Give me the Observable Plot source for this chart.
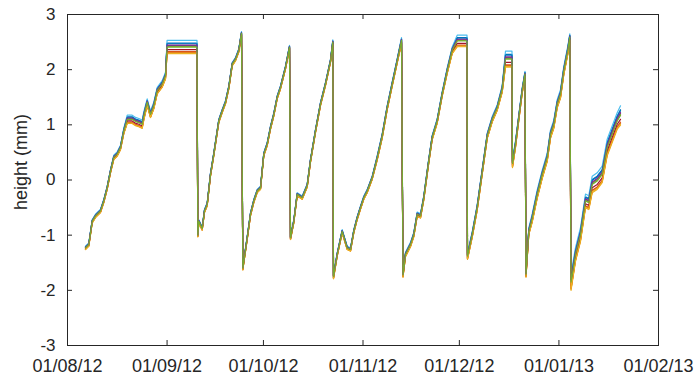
<!DOCTYPE html>
<html>
<head>
<meta charset="utf-8">
<script src="https://cdn.jsdelivr.net/npm/d3@7"></script>
<script src="https://cdn.jsdelivr.net/npm/@observablehq/plot@0.6"></script>
<style>
  html, body { margin: 0; padding: 0; background: #fff; }
  #chart { width: 698px; height: 377px; }
</style>
</head>
<body>
<div id="chart"></div>
<script>
// Time in days since 01/08/12
const days = [
  5.60, 6.63, 7.69, 8.72, 10.27, 11.30, 12.36, 13.39, 14.41, 15.47, 16.50, 17.53, 18.59, 20.14, 21.17, 22.20, 23.26, 23.75, 24.81, 25.84, 26.87, 27.93, 29.48, 30.51, 31.0, 40.32,
  40.57, 40.88, 41.94, 42.65, 43.49, 44.52, 45.55, 47.10, 48.16, 49.19, 50.22, 51.28, 52.30, 53.33, 54.17,
  54.58, 55.95, 56.97, 58.00, 59.06, 60.09, 61.12, 62.17, 63.20, 64.23, 65.29, 66.31, 67.87, 69.12,
  69.43, 70.45, 71.51, 73.07, 74.63, 75.65, 77.21, 78.77, 80.32, 81.88, 82.60,
  82.81, 83.97, 85.52, 87.08, 88.11, 89.13, 90.19, 91.22, 92.25, 93.31, 94.86, 96.42, 97.98, 99.53, 101.09, 102.65, 103.99,
  104.45, 105.23, 106.79, 107.81, 108.87, 109.90, 110.93, 112.48, 113.54, 115.10, 116.66, 118.21, 119.77, 121.33, 124.38,
  124.53, 126.00, 127.55, 129.11, 130.67, 132.22, 133.78, 135.34, 136.36, 138.39, 138.54, 139.48, 140.50, 141.56, 142.43,
  142.74, 143.62, 144.68, 146.23, 147.79, 149.35, 150.37, 151.40, 152.46, 153.49, 154.51, 155.76, 156.38,
  156.76, 158.16, 159.71, 161.27, 162.30, 163.36, 164.91, 166.47, 168.03, 169.58, 171.14, 172.17
];
// Central height (mm)
const heights = [
  -1.23, -1.17, -0.75, -0.65, -0.56, -0.38, -0.14, 0.16, 0.41, 0.47, 0.59, 0.89, 1.10, 1.10, 1.06, 1.04, 1.01, 1.16, 1.41, 1.19, 1.35, 1.62, 1.74, 1.89, 2.41, 2.41,
  -1.00, -0.75, -0.88, -0.56, -0.44, 0.10, 0.47, 1.07, 1.25, 1.41, 1.68, 2.10, 2.19, 2.35, 2.66,
  -1.60, -1.05, -0.62, -0.38, -0.20, -0.14, 0.47, 0.65, 0.95, 1.19, 1.50, 1.68, 2.04, 2.41,
  -1.05, -0.75, -0.26, -0.32, -0.10, 0.35, 0.89, 1.38, 1.74, 2.16, 2.50,
  -1.75, -1.35, -0.93, -1.23, -1.26, -0.93, -0.69, -0.50, -0.32, -0.20, 0.04, 0.40, 0.80, 1.31, 1.74, 2.16, 2.53,
  -1.72, -1.35, -1.17, -0.99, -0.62, -0.65, -0.32, 0.35, 0.77, 1.07, 1.56, 1.98, 2.35, 2.52, 2.52,
  -1.38, -0.99, -0.50, 0.15, 0.80, 1.10, 1.31, 1.65, 2.19, 2.19, 0.30, 0.65, 1.13, 1.62, 1.92,
  -1.71, -0.93, -0.69, -0.26, 0.10, 0.41, 0.83, 1.01, 1.38, 1.56, 1.98, 2.35, 2.59,
  -1.85, -1.35, -0.99, -0.38, -0.41, -0.08, -0.02, 0.10, 0.59, 0.83, 1.07, 1.17
];
// Spread between the sensors at each time (mm)
const spreads = [
  0.06, 0.06, 0.06, 0.06, 0.06, 0.06, 0.06, 0.06, 0.08, 0.08, 0.08, 0.10, 0.15, 0.15, 0.15, 0.15, 0.15, 0.15, 0.12, 0.12, 0.12, 0.12, 0.12, 0.12, 0.24, 0.24,
  0.06, 0.06, 0.06, 0.06, 0.06, 0.06, 0.06, 0.06, 0.06, 0.06, 0.06, 0.06, 0.06, 0.06, 0.06,
  0.06, 0.06, 0.06, 0.06, 0.06, 0.06, 0.06, 0.06, 0.06, 0.06, 0.06, 0.06, 0.06, 0.06,
  0.06, 0.06, 0.06, 0.06, 0.06, 0.06, 0.06, 0.06, 0.06, 0.06, 0.08,
  0.08, 0.06, 0.06, 0.06, 0.06, 0.06, 0.06, 0.06, 0.06, 0.06, 0.06, 0.08, 0.08, 0.08, 0.08, 0.08, 0.10,
  0.08, 0.08, 0.08, 0.08, 0.08, 0.08, 0.08, 0.08, 0.08, 0.08, 0.08, 0.10, 0.12, 0.21, 0.21,
  0.12, 0.10, 0.10, 0.10, 0.10, 0.10, 0.10, 0.12, 0.29, 0.29, 0.15, 0.12, 0.10, 0.10, 0.10,
  0.10, 0.12, 0.15, 0.15, 0.15, 0.15, 0.15, 0.15, 0.15, 0.15, 0.15, 0.15, 0.12,
  0.30, 0.25, 0.25, 0.25, 0.25, 0.30, 0.30, 0.30, 0.30, 0.30, 0.30, 0.35
];
const seriesNames = ["s1","s2","s3","s4","s5","s6","s7","s8","s9","s10","s11","s12"];
const seriesColors = ["#0072BD","#D95319","#EDB120","#7E2F8E","#77AC30","#4DBEEE","#A2142F","#0072BD","#D95319","#EDB120","#7E2F8E","#77AC30"];
// Relative position of each sensor inside the spread
const seriesPosition = [0.30, -0.35, -0.50, 0.10, 0.05, 0.50, -0.20, 0.25, -0.40, -0.45, 0.15, 0.00];

const xTickDates = ["2012-08-01","2012-09-01","2012-10-01","2012-11-01","2012-12-01","2013-01-01","2013-02-01"];
const xTickLabels = ["01/08/12","01/09/12","01/10/12","01/11/12","01/12/12","01/01/13","01/02/13"];
const yTicks = [-3, -2, -1, 0, 1, 2, 3];
const yTickLabels = ["-3","-2","-1","0","1","2","3"];
const yLabel = "height (mm)";

const start = Date.UTC(2012, 7, 1);
const rows = [];
seriesNames.forEach((name, s) => {
  days.forEach((d, i) => {
    rows.push({series: name, date: new Date(start + d * 864e5), height: heights[i] + seriesPosition[s] * spreads[i]});
  });
});
const xTicks = xTickDates.map(d => new Date(d + "T00:00:00Z"));

const W = 698, H = 377, mL = 67, mR = 40, mT = 14, mB = 32;
const fw = W - mL - mR, fh = H - mT - mB, tl = 5;
const ink = "#262626";

const chart = Plot.plot({
  width: W, height: H,
  marginLeft: mL, marginRight: mR, marginTop: mT, marginBottom: mB,
  style: {fontFamily: "'Liberation Sans', Arial, sans-serif", fontSize: "17px", color: ink, background: "#fff"},
  x: {type: "utc", domain: [xTicks[0], xTicks[xTicks.length - 1]]},
  y: {domain: [-3, 3]},
  color: {domain: seriesNames, range: seriesColors},
  marks: [
    Plot.lineY(rows, {x: "date", y: "height", z: "series", stroke: "series", strokeWidth: 1.2}),
    Plot.frame({stroke: ink, strokeWidth: 1}),
    Plot.tickX(xTicks, {x: d => d, insetTop: fh - tl, stroke: ink}),
    Plot.tickX(xTicks, {x: d => d, insetBottom: fh - tl, stroke: ink}),
    Plot.tickY(yTicks, {y: d => d, insetRight: fw - tl, stroke: ink}),
    Plot.tickY(yTicks, {y: d => d, insetLeft: fw - tl, stroke: ink}),
    Plot.axisX({ticks: xTicks, tickFormat: (d, i) => xTickLabels[i], tickSize: 0, tickPadding: 14, fontSize: 18, label: null, fill: ink}),
    Plot.axisY({ticks: yTicks, tickFormat: (d, i) => yTickLabels[i], tickSize: 0, tickPadding: 12, fontSize: 17, label: null, fill: ink}),
    Plot.text([yLabel], {text: d => d, frameAnchor: "left", rotate: -90, dx: -46, dy: -18, fontSize: 18, fill: ink, textAnchor: "middle", lineAnchor: "middle"})
  ]
});
document.getElementById("chart").appendChild(chart);
</script>
</body>
</html>
